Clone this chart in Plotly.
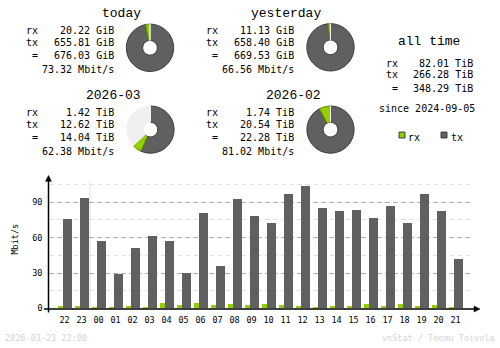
import plotly.graph_objects as go

W, H = 500, 348

# ---- data ----
hours = ["22", "23", "00", "01", "02", "03", "04", "05", "06", "07", "08", "09",
         "10", "11", "12", "13", "14", "15", "16", "17", "18", "19", "20", "21"]
tx_mbit = [75, 93.3, 56.7, 29.2, 50.8, 60.8, 56.7, 30, 80, 35.8, 92.5, 77.5,
           71.7, 96.7, 103.3, 85, 82.5, 83.3, 75.8, 86.7, 71.7, 96.7, 81.7, 41.7]
rx_mbit = [1.7, 1.7, 0.8, 0.3, 1.7, 0.8, 4.2, 2.5, 4.2, 2.5, 3.3, 2.5,
           3.3, 2.5, 1.7, 0.8, 1.7, 1.7, 3.3, 1.7, 3.3, 1.7, 2.5, 0.8]

pie_titles = ["today", "yesterday", "2026-03", "2026-02"]
pie_rx = [20.22, 11.13, 1.42, 1.74]
pie_tx = [655.81, 658.40, 12.62, 20.54]
pie_rest = [0, 0, 8.24, 0]
rx_text = ["20.22 GiB", "11.13 GiB", "1.42 TiB", "1.74 TiB"]
tx_text = ["655.81 GiB", "658.40 GiB", "12.62 TiB", "20.54 TiB"]
tot_text = ["676.03 GiB", "669.53 GiB", "14.04 TiB", "22.28 TiB"]
rate_text = ["73.32 Mbit/s", "66.56 Mbit/s", "62.38 Mbit/s", "81.02 Mbit/s"]

alltime = ["82.01 TiB", "266.28 TiB", "348.29 TiB"]
since = "since 2024-09-05"
stamp = "2026-03-23 22:00"
credit = "vnStat / Teemu Toivola"

RX = "#92CF00"
TX = "#606060"
MONO = "DejaVu Sans Mono"
HEAD = "Liberation Mono"

def px(x):
    return x / W

def py(y):
    return 1 - y / H

fig = go.Figure()

# ---- pies ----
pie_centers = [(150, 48.5), (330.5, 48), (150.5, 131.5), (330.5, 131.5)]
R = 24
for i, (cx, cy) in enumerate(pie_centers):
    fig.add_trace(go.Pie(
        values=[pie_tx[i], pie_rx[i], pie_rest[i]],
        labels=["tx", "rx", "rest"],
        sort=False, direction="clockwise", rotation=0,
        hole=0.31, textinfo="none", hoverinfo="skip", showlegend=False,
        marker=dict(colors=[TX, RX, "#F0F0F0"],
                    line=dict(color=["#3c3c3c", "#5f8a00", "#F0F0F0"], width=1)),
        domain=dict(x=[px(cx - R), px(cx + R)], y=[py(cy + R), py(cy - R)]),
    ))

# ---- bars ----
xs = list(range(len(hours)))
fig.add_trace(go.Bar(x=xs, y=rx_mbit, width=5 / 17, offset=-7 / 17,
                     marker=dict(color=RX, line=dict(width=0)),
                     showlegend=False, hoverinfo="skip"))
fig.add_trace(go.Bar(x=xs, y=tx_mbit, width=8.5 / 17, offset=-2 / 17,
                     marker=dict(color=TX, line=dict(width=0)),
                     showlegend=False, hoverinfo="skip"))

x_left, x_right = 48.5, 473
y_bot, y_top = 313, 180
a = -(64.5 - x_left) / 17
b = a + (x_right - x_left) / 17

anns = []
DY = 2.0

def txt(x, y, s, anchor="left", size=10, color="#000000", family=MONO):
    anns.append(dict(x=px(x), y=py(y + DY), xref="paper", yref="paper", text=s,
                     showarrow=False, xanchor=anchor, yanchor="middle",
                     borderpad=0, font=dict(family=family, size=size, color=color)))

# text blocks
blocks = [(0, 0), (180, 0), (0, 83), (180, 83)]
for i, (dx, dy) in enumerate(blocks):
    txt(142 + dx, 12 + dy, pie_titles[i], anchor="right", size=13, family=HEAD)
    txt(25 + dx, 29 + dy, "rx")
    txt(115 + dx, 29 + dy, rx_text[i], anchor="right")
    txt(25 + dx, 41 + dy, "tx")
    txt(115 + dx, 41 + dy, tx_text[i], anchor="right")
    txt(31 + dx, 54 + dy, "=")
    txt(115 + dx, 54 + dy, tot_text[i], anchor="right")
    txt(115 + dx, 69 + dy, rate_text[i], anchor="right")

# all time
txt(429, 40.5, "all time", anchor="center", size=13, family=HEAD)
txt(385, 62.5, "rx")
txt(474, 62.5, alltime[0], anchor="right")
txt(385, 74, "tx")
txt(474, 74, alltime[1], anchor="right")
txt(391, 88, "=")
txt(474, 88, alltime[2], anchor="right")
txt(378, 108, since)
txt(407, 137, "rx")
txt(450, 137, "tx")

# footer
txt(4, 341, stamp, size=8.5, color="#D4D4D4")
txt(496, 341, credit, anchor="right", size=8.5, color="#D4D4D4")

# y axis title
anns.append(dict(x=px(15), y=py(243), xref="paper", yref="paper", text="Mbit/s",
                 showarrow=False, textangle=-90, xanchor="center", yanchor="middle",
                 font=dict(family=MONO, size=8.5, color="#000000")))

shapes = []
# legend squares
shapes.append(dict(type="rect", xref="paper", yref="paper",
                   x0=px(399), x1=px(405), y0=py(140), y1=py(134),
                   fillcolor=RX, line=dict(color="#3c3c3c", width=1)))
shapes.append(dict(type="rect", xref="paper", yref="paper",
                   x0=px(441), x1=px(447), y0=py(140), y1=py(134),
                   fillcolor=TX, line=dict(color="#3c3c3c", width=1)))
# day separator
shapes.append(dict(type="line", xref="x", yref="paper", x0=1.5, x1=1.5,
                   y0=py(y_bot), y1=py(184), line=dict(color="#E0E0E0", width=1),
                   layer="below"))
# axes
shapes.append(dict(type="line", xref="paper", yref="paper", x0=px(44), x1=px(476),
                   y0=py(313.5), y1=py(313.5), line=dict(color="#000000", width=1.5)))
shapes.append(dict(type="line", xref="paper", yref="paper", x0=px(48.5), x1=px(48.5),
                   y0=py(317), y1=py(182), line=dict(color="#000000", width=1.5)))
shapes.append(dict(type="path", xref="paper", yref="paper",
                   path=f"M {px(45.5)},{py(184)} L {px(51.5)},{py(184)} L {px(48.5)},{py(178)} Z",
                   fillcolor="#000000", line=dict(color="#000000", width=0.5)))
shapes.append(dict(type="path", xref="paper", yref="paper",
                   path=f"M {px(474)},{py(310.5)} L {px(474)},{py(316.5)} L {px(480)},{py(313.5)} Z",
                   fillcolor="#000000", line=dict(color="#000000", width=0.5)))

fig.update_layout(
    width=W, height=H, margin=dict(l=0, r=0, t=0, b=0),
    paper_bgcolor="#FFFFFF", plot_bgcolor="rgba(0,0,0,0)",
    barmode="overlay", bargap=0,
    annotations=anns, shapes=shapes,
    xaxis=dict(domain=[px(x_left), px(x_right)], range=[a, b],
               tickmode="array", tickvals=xs, ticktext=hours,
               showgrid=False, zeroline=False, showline=False, ticks="",
               ticklabelstandoff=5,
               tickfont=dict(family=MONO, size=8.5, color="#000000")),
    yaxis=dict(domain=[py(y_bot), py(y_top)], range=[0, (y_bot - y_top) / 1.2],
               tickmode="linear", tick0=0, dtick=30,
               showgrid=True, gridcolor="#B0B0B0", griddash="5px,3px", gridwidth=1,
               minor=dict(dtick=15, tick0=0, showgrid=True, gridcolor="#E2E2E2",
                          griddash="5px,3px", gridwidth=1),
               zeroline=False, showline=False, ticks="",
               tickfont=dict(family=MONO, size=8.5, color="#000000"),
               showticklabels=True, ticklabelstandoff=5),
    font=dict(family=MONO),
)

fig.write_html("out.html")
